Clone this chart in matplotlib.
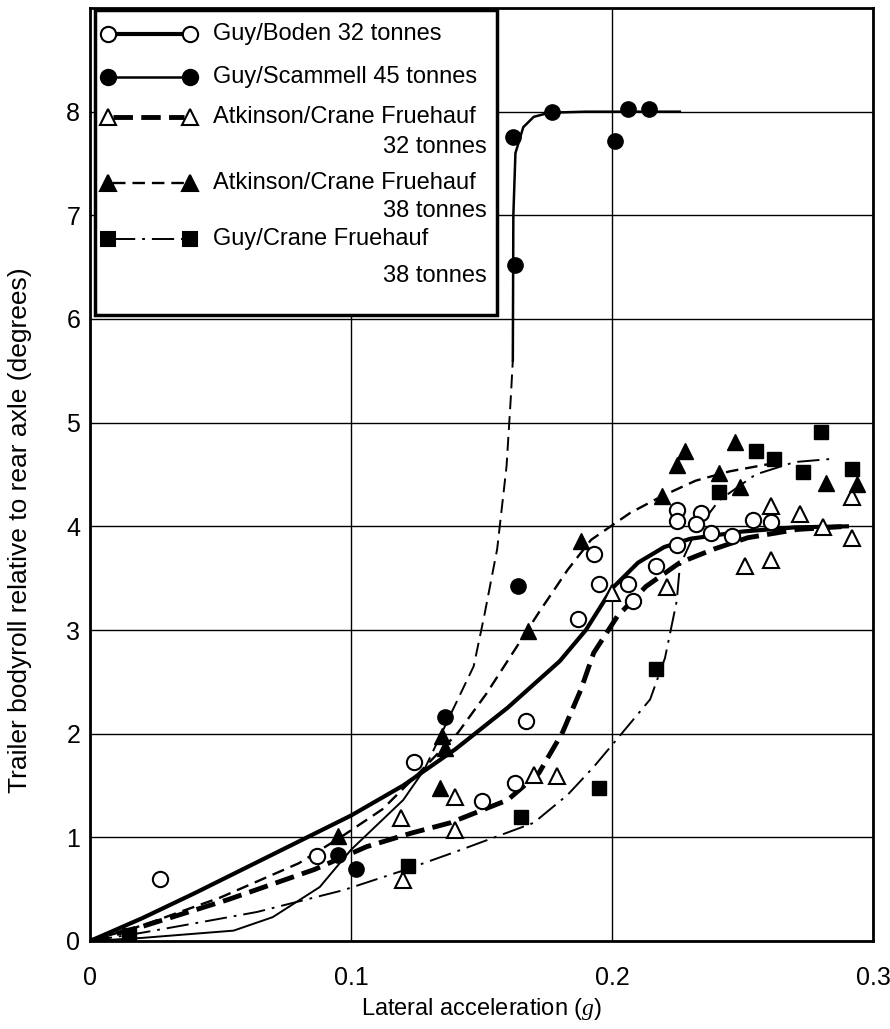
import matplotlib.pyplot as plt
from matplotlib.patches import Rectangle

plt.rcParams['font.family'] = ['Liberation Sans', 'DejaVu Sans']
plt.rcParams['mathtext.fontset'] = 'custom'
plt.rcParams['mathtext.it'] = 'Liberation Serif:italic'
plt.rcParams['lines.scale_dashes'] = False

# measured points
boden_x = [0.027, 0.087, 0.124, 0.150, 0.163, 0.167, 0.187, 0.193, 0.195, 0.206, 0.208,
           0.217, 0.225, 0.225, 0.225, 0.234, 0.232, 0.238, 0.246, 0.254, 0.261]
boden_y = [0.60, 0.82, 1.73, 1.35, 1.52, 2.12, 3.11, 3.73, 3.44, 3.44, 3.28,
           3.62, 3.82, 4.16, 4.05, 4.13, 4.02, 3.94, 3.91, 4.06, 4.04]

scam_x = [0.095, 0.102, 0.136, 0.164, 0.163, 0.162, 0.177, 0.201, 0.206, 0.214]
scam_y = [0.83, 0.69, 2.16, 3.42, 6.52, 7.76, 8.00, 7.72, 8.03, 8.03]

atk32_x = [0.120, 0.119, 0.140, 0.140, 0.170, 0.179, 0.200, 0.221, 0.251, 0.261,
           0.261, 0.272, 0.281, 0.292, 0.292]
atk32_y = [0.59, 1.19, 1.07, 1.39, 1.60, 1.59, 3.36, 3.41, 3.62, 3.68,
           4.20, 4.12, 3.99, 3.89, 4.28]

atk38_x = [0.095, 0.134, 0.135, 0.136, 0.168, 0.188, 0.219, 0.225, 0.228, 0.241,
           0.247, 0.249, 0.282, 0.294]
atk38_y = [1.01, 1.48, 1.98, 1.86, 2.99, 3.86, 4.29, 4.59, 4.73, 4.51,
           4.81, 4.38, 4.42, 4.41]

gc_x = [0.015, 0.122, 0.165, 0.195, 0.217, 0.241, 0.255, 0.262, 0.273, 0.280, 0.292]
gc_y = [0.06, 0.72, 1.20, 1.48, 2.62, 4.33, 4.73, 4.65, 4.52, 4.91, 4.55]

# fitted curves
boden_cx = [0, 0.02, 0.04, 0.06, 0.08, 0.10, 0.12, 0.14, 0.16, 0.18, 0.19, 0.20,
            0.21, 0.22, 0.23, 0.25, 0.27, 0.29]
boden_cy = [0, 0.22, 0.46, 0.71, 0.96, 1.21, 1.5, 1.85, 2.25, 2.7, 3.0, 3.4,
            3.65, 3.8, 3.88, 3.95, 3.99, 4.0]

scam_lo_x = [0, 0.02, 0.04, 0.055, 0.07, 0.088, 0.10, 0.12, 0.128]
scam_lo_y = [0, 0.03, 0.07, 0.10, 0.23, 0.52, 0.88, 1.36, 1.65]
scam_mid_x = [0.128, 0.139, 0.147, 0.151, 0.156, 0.1596, 0.1612, 0.162]
scam_mid_y = [1.65, 2.23, 2.65, 3.13, 3.78, 4.58, 5.23, 5.6]
scam_hi_x = [0.162, 0.1622, 0.163, 0.166, 0.170, 0.176, 0.19, 0.21, 0.226]
scam_hi_y = [5.6, 7.0, 7.6, 7.85, 7.95, 7.99, 8.0, 8.0, 8.0]

atk32_cx = [0, 0.02, 0.053, 0.086, 0.106, 0.123, 0.138, 0.147, 0.160, 0.172, 0.181,
            0.188, 0.193, 0.202, 0.213, 0.226, 0.239, 0.252, 0.271, 0.29]
atk32_cy = [0, 0.14, 0.40, 0.69, 0.91, 1.04, 1.14, 1.23, 1.36, 1.62, 2.01,
            2.42, 2.78, 3.13, 3.42, 3.65, 3.78, 3.89, 3.97, 4.0]

atk38_cx = [0, 0.02, 0.05, 0.08, 0.096, 0.112, 0.126, 0.141, 0.152, 0.162, 0.172,
            0.183, 0.192, 0.207, 0.219, 0.232, 0.245, 0.26]
atk38_cy = [0, 0.15, 0.42, 0.75, 1.0, 1.27, 1.62, 2.01, 2.39, 2.78, 3.17,
            3.58, 3.87, 4.13, 4.29, 4.44, 4.53, 4.6]

gc_cx = [0, 0.02, 0.04, 0.064, 0.097, 0.12, 0.14, 0.155, 0.170, 0.183, 0.193, 0.203,
         0.2146, 0.2203, 0.2248, 0.226, 0.232, 0.241, 0.255, 0.27, 0.284]
gc_cy = [0, 0.08, 0.17, 0.28, 0.49, 0.68, 0.86, 1.0, 1.14, 1.41, 1.68, 1.98,
         2.33, 2.73, 3.28, 3.62, 3.95, 4.25, 4.5, 4.62, 4.65]

open_mk = dict(mfc='white', mec='black', mew=1.5, ms=11, ls='none')
full_mk = dict(mfc='black', mec='black', mew=1, ms=11, ls='none')

fig = plt.figure(figsize=(8.9, 10.29), dpi=100)
ax = fig.add_axes([90 / 890, 88 / 1029, 783 / 890, 933 / 1029])

# curves
ax.plot(boden_cx, boden_cy, color='black', lw=3, zorder=3)
ax.plot(scam_lo_x, scam_lo_y, color='black', lw=1.4, zorder=3)
ax.plot(scam_mid_x, scam_mid_y, color='black', lw=1.4, dashes=(10, 5), zorder=3)
ax.plot(scam_hi_x, scam_hi_y, color='black', lw=1.8, zorder=3)
ax.plot(atk32_cx, atk32_cy, color='black', lw=3.5, dashes=(14, 6), zorder=3)
ax.plot(atk38_cx, atk38_cy, color='black', lw=1.7, dashes=(9, 5), zorder=3)
ax.plot(gc_cx, gc_cy, color='black', lw=1.4, dashes=(16, 5, 2, 5), zorder=3)

# points
ax.plot(boden_x, boden_y, marker='o', zorder=4, **open_mk)
ax.plot(scam_x, scam_y, marker='o', zorder=4, **full_mk)
ax.plot(atk32_x, atk32_y, marker='^', zorder=4, **open_mk)
ax.plot(atk38_x, atk38_y, marker='^', zorder=4, **full_mk)
ax.plot(gc_x, gc_y, marker='s', zorder=4, **dict(full_mk, ms=10))

ax.set_xlim(0, 0.3)
ax.set_ylim(0, 9)
ax.set_xticks([0, 0.1, 0.2, 0.3])
ax.set_xticklabels(['0', '0.1', '0.2', '0.3'])
ax.set_yticks(range(0, 9))
ax.tick_params(length=0, labelsize=18)
ax.tick_params(axis='x', pad=18)
ax.tick_params(axis='y', pad=7)
ax.grid(True, color='black', lw=1)
for s in ax.spines.values():
    s.set_linewidth(2)

ax.set_xlabel(r'Lateral acceleration ($\it{g}$)', fontsize=17, labelpad=4)
ax.set_ylabel('Trailer bodyroll relative to rear axle (degrees)', fontsize=19)
ax.yaxis.set_label_coords(-0.074, 0.44)

# legend box drawn by hand
ax.add_patch(Rectangle((0.006, 0.671), 0.514, 0.327, transform=ax.transAxes,
                       fc='white', ec='black', lw=2.5, zorder=6, clip_on=False))

entries = [
    ('Guy/Boden 32 tonnes', None, 'o', 'white', dict(ls='-', lw=3)),
    ('Guy/Scammell 45 tonnes', None, 'o', 'black', dict(ls='-', lw=1.8)),
    ('Atkinson/Crane Fruehauf', '32 tonnes', '^', 'white', dict(lw=3.5, dashes=(14, 6))),
    ('Atkinson/Crane Fruehauf', '38 tonnes', '^', 'black', dict(lw=1.7, dashes=(9, 5))),
    ('Guy/Crane Fruehauf', '38 tonnes', 's', 'black', dict(lw=1.4, dashes=(16, 5, 2, 5))),
]
rows = [34, 77, 117, 183, 239]
second = [None, None, 147, 211, 276]
for (lab, lab2, mk, fc, lstyle), py, py2 in zip(entries, rows, second):
    yy = (941 - py) / 933
    ax.plot([0.03, 0.12], [yy, yy], color='black', transform=ax.transAxes,
            clip_on=False, zorder=7, **lstyle)
    ax.plot([0.023, 0.128], [yy, yy], marker=mk, mfc=fc, mec='black', mew=1.5,
            ms=11 if mk != 's' else 10, ls='none', transform=ax.transAxes,
            clip_on=False, zorder=8)
    ax.text(0.157, yy, lab, transform=ax.transAxes, fontsize=17,
            va='center', ha='left', zorder=8)
    if lab2:
        ax.text(0.507, (941 - py2) / 933, lab2, transform=ax.transAxes, fontsize=17,
                va='center', ha='right', zorder=8)

plt.savefig('out.png', dpi=100)
